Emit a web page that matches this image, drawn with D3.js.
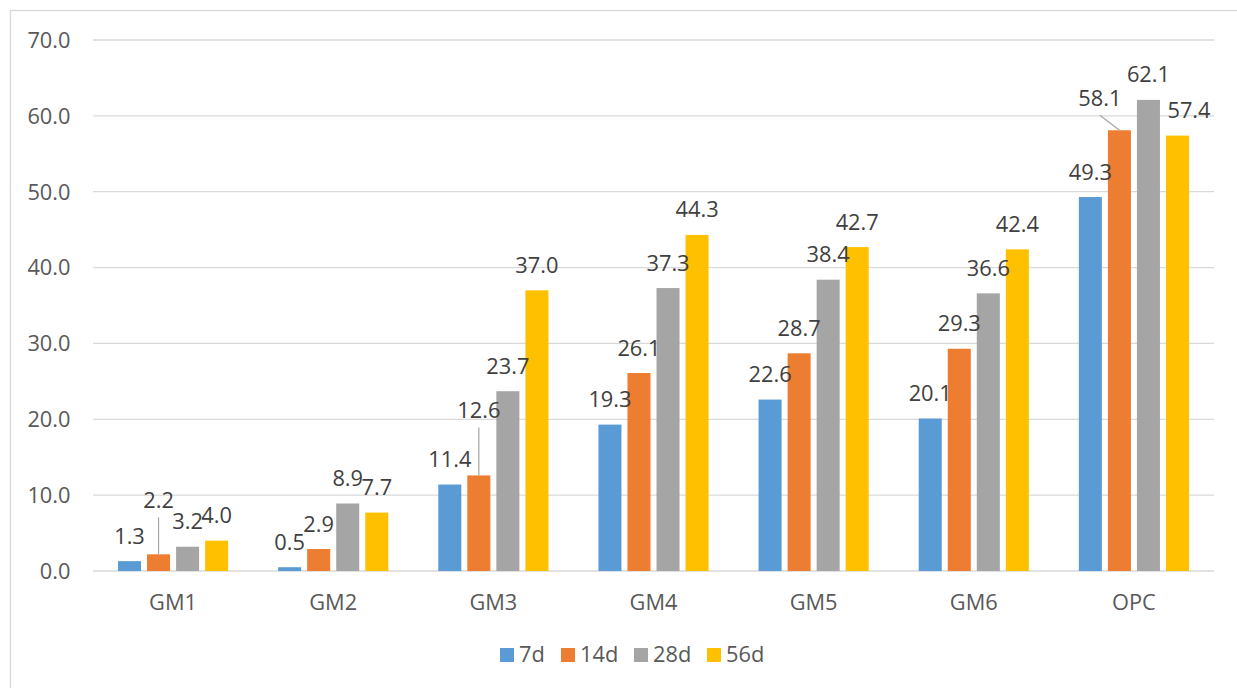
<!DOCTYPE html>
<html>
<head>
<meta charset="utf-8">
<script src="https://cdn.jsdelivr.net/npm/d3@7"></script>
<style>
  html, body { margin: 0; padding: 0; background: #fff; }
  svg { display: block; }
  text { font-family: "Open Sans", "Noto Sans", sans-serif; }
</style>
</head>
<body>
<svg id="chart" width="1237" height="688"></svg>
<script>
// Strength development by curing age
const categories = ["GM1", "GM2", "GM3", "GM4", "GM5", "GM6", "OPC"];
const seriesNames = ["7d", "14d", "28d", "56d"];
const values7d  = [1.3, 0.5, 11.4, 19.3, 22.6, 20.1, 49.3];
const values14d = [2.2, 2.9, 12.6, 26.1, 28.7, 29.3, 58.1];
const values28d = [3.2, 8.9, 23.7, 37.3, 38.4, 36.6, 62.1];
const values56d = [4.0, 7.7, 37.0, 44.3, 42.7, 42.4, 57.4];
const yTicks = [0, 10, 20, 30, 40, 50, 60, 70];

const seriesValues = [values7d, values14d, values28d, values56d];
const colors = ["#5b9bd5", "#ed7d31", "#a5a5a5", "#ffc000"];
const FONT = 21.8;

// Labels that sit away from their bar (moved to avoid overlap), with leader lines
const labelShift = {
  "GM1|14d": { dx: 0, dy: -29, leader: true },
  "GM3|14d": { dx: 0, dy: -40, leader: true },
  "OPC|14d": { dx: -19.5, dy: -7, leader: true },
  "OPC|56d": { dx: 11.5, dy: 0, leader: false }
};

const svg = d3.select("#chart");

// outer chart frame
svg.append("rect")
  .attr("x", 10.5).attr("y", 10.5)
  .attr("width", 1300).attr("height", 700)
  .attr("fill", "none").attr("stroke", "#d9d9d9").attr("stroke-width", 1.3);

const plot = { left: 93, right: 1214, top: 40, bottom: 571 };

const x = d3.scaleBand().domain(categories).range([plot.left, plot.right]).padding(0);
const inner = d3.scaleBand().domain(seriesNames)
  .range([25, x.step() - 25]).paddingInner(0.207).paddingOuter(0);
const y = d3.scaleLinear().domain([0, 70]).range([plot.bottom, plot.top]);

// gridlines
svg.append("g").selectAll("line").data(yTicks).join("line")
  .attr("x1", plot.left).attr("x2", plot.right)
  .attr("y1", d => y(d)).attr("y2", d => y(d))
  .attr("stroke", "#d9d9d9").attr("stroke-width", 1.3);

// y tick labels
svg.append("g").selectAll("text").data(yTicks).join("text")
  .attr("x", 70.5).attr("y", d => y(d) + 7.8)
  .attr("text-anchor", "end")
  .attr("font-size", FONT).attr("fill", "#595959")
  .text(d => d3.format(".1f")(d));

// category labels
svg.append("g").selectAll("text").data(categories).join("text")
  .attr("x", d => x(d) + x.bandwidth() / 2).attr("y", 610)
  .attr("text-anchor", "middle")
  .attr("font-size", FONT).attr("fill", "#595959")
  .text(d => d);

// bars
const records = [];
categories.forEach((c, i) => {
  seriesNames.forEach((s, j) => {
    records.push({ cat: c, series: s, value: seriesValues[j][i], color: colors[j] });
  });
});

const barX = d => x(d.cat) + inner(d.series);

svg.append("g").selectAll("rect").data(records).join("rect")
  .attr("x", barX)
  .attr("y", d => y(d.value))
  .attr("width", inner.bandwidth())
  .attr("height", d => y(0) - y(d.value))
  .attr("fill", d => d.color);

// leader lines
const leaderG = svg.append("g");
// data labels
const labelG = svg.append("g");
records.forEach(d => {
  const cx = barX(d) + inner.bandwidth() / 2;
  const top = y(d.value);
  const sh = labelShift[d.cat + "|" + d.series] || { dx: 0, dy: 0, leader: false };
  const lx = cx + sh.dx;
  const ly = top - 17.5 + sh.dy;
  if (sh.leader) {
    leaderG.append("line")
      .attr("x1", lx).attr("y1", ly + 9.5)
      .attr("x2", cx).attr("y2", top)
      .attr("stroke", "#a6a6a6").attr("stroke-width", 1.2);
  }
  labelG.append("text")
    .attr("x", lx).attr("y", ly)
    .attr("text-anchor", "middle")
    .attr("font-size", FONT).attr("fill", "#404040")
    .text(d3.format(".1f")(d.value));
});

// legend
const legendX = [500, 561, 634, 707];
const legend = svg.append("g");
seriesNames.forEach((s, j) => {
  legend.append("rect")
    .attr("x", legendX[j]).attr("y", 648)
    .attr("width", 14).attr("height", 14)
    .attr("fill", colors[j]);
  legend.append("text")
    .attr("x", legendX[j] + 19).attr("y", 662)
    .attr("font-size", FONT).attr("fill", "#595959")
    .text(s);
});
</script>
</body>
</html>
